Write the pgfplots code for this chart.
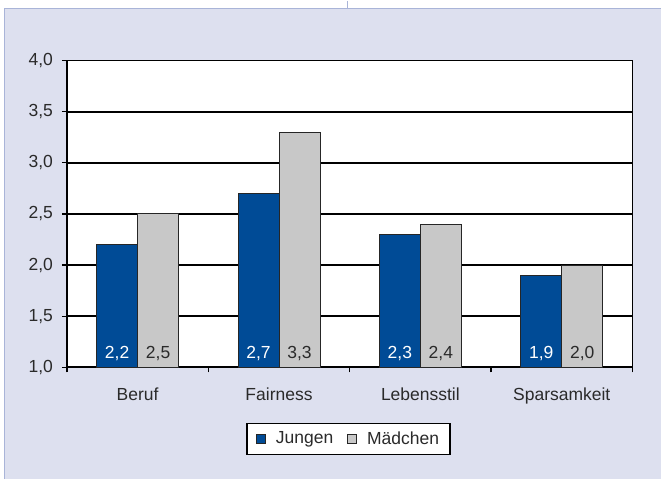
\documentclass[border=0pt]{standalone}
\usepackage{pgfplots}
\pgfplotsset{compat=1.18}
\usepackage{fontspec}
\setmainfont{Liberation Sans}
\definecolor{panel}{HTML}{DDE0EF}
\definecolor{panelborder}{HTML}{A9B4D8}
\definecolor{jblue}{HTML}{004B96}
\definecolor{mgray}{HTML}{C8C8C8}
\definecolor{txt}{HTML}{2A2A2A}
\begin{document}
\fontsize{17.5bp}{20bp}\selectfont
\begin{tikzpicture}
\fill[white] (0,0) rectangle (662bp,479bp);
\fill[panel] (4bp,0) rectangle (662bp,471bp);
\draw[panelborder, line width=1.2bp] (4.5bp,0) -- (4.5bp,471bp) -- (662bp,471bp);
\draw[panelborder, line width=1.2bp] (347.5bp,471bp) -- (347.5bp,479bp);
\begin{axis}[
  at={(67bp,112bp)}, anchor=south west,
  scale only axis, width=566bp, height=307bp,
  xmin=-0.5, xmax=3.5, ymin=1, ymax=4,
  axis background/.style={fill=white},
  axis line style={black, line width=1.7bp},
  ybar, bar width=41bp,
  xtick={0,1,2,3}, xticklabels={Beruf,Fairness,Lebensstil,Sparsamkeit},
  major x tick style={draw=none},
  minor xtick={-0.5,0.5,1.5,2.5,3.5},
  ytick={1,1.5,2,2.5,3,3.5,4},
  tick align=outside, tick pos=left,
  major tick length=5bp, minor tick length=5bp,
  tick style={black, line width=1.2bp},
  ymajorgrids, grid style={black, line width=1.8bp},
  /pgf/number format/assume math mode=true,
  yticklabel style={xshift=-3bp, /pgf/number format/.cd, use comma, fixed, fixed zerofill, precision=1},
  ticklabel style={font=\fontsize{17.5bp}{20bp}\selectfont, text=txt},
  xticklabel style={yshift=-10bp},
  legend style={at={(0.498,-0.2345)}, anchor=center, draw=black, line width=1.3bp,
    fill=white, legend columns=2, font=\fontsize{17.5bp}{20bp}\selectfont, text=txt,
    inner xsep=9bp, inner ysep=6bp,
    /tikz/every even column/.append style={column sep=12bp}},
  legend image code/.code={\draw[#1, line width=0.9bp] (0bp,-4.25bp) rectangle (8.5bp,4.25bp);
    \path (17bp,0bp);},
]
\addplot[fill=jblue, draw=black!85, line width=0.9bp, bar shift=-20.5bp]
  coordinates {(0,2.2) (1,2.7) (2,2.3) (3,1.9)};
\addlegendentry{Jungen}
\addplot[fill=mgray, draw=black!85, line width=0.9bp, bar shift=20.5bp]
  coordinates {(0,2.5) (1,3.3) (2,2.4) (3,2.0)};
\addlegendentry{Mädchen}
\addplot[draw=none, fill=none, bar shift=-20.5bp, forget plot,
  point meta=explicit, nodes near coords,
  nodes near coords style={anchor=base, yshift=9bp, text=white,
    font=\fontsize{17.5bp}{20bp}\selectfont,
    /pgf/number format/.cd, use comma, fixed, fixed zerofill, precision=1}]
  coordinates {(0,1) [2.2] (1,1) [2.7] (2,1) [2.3] (3,1) [1.9]};
\addplot[draw=none, fill=none, bar shift=20.5bp, forget plot,
  point meta=explicit, nodes near coords,
  nodes near coords style={anchor=base, yshift=9bp, text=txt,
    font=\fontsize{17.5bp}{20bp}\selectfont,
    /pgf/number format/.cd, use comma, fixed, fixed zerofill, precision=1}]
  coordinates {(0,1) [2.5] (1,1) [3.3] (2,1) [2.4] (3,1) [2.0]};
\end{axis}
\end{tikzpicture}
\end{document}
